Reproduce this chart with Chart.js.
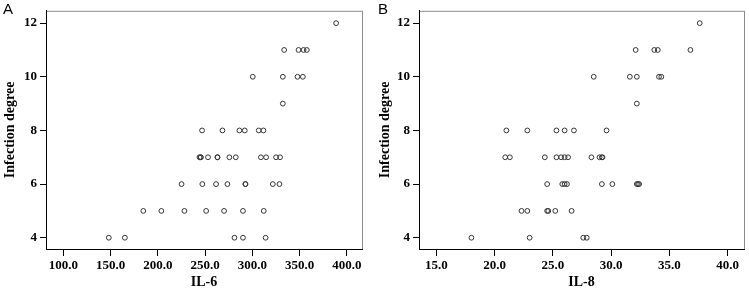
<!DOCTYPE html>
<html>
<head>
<meta charset="utf-8">
<script src="https://cdn.jsdelivr.net/npm/chart.js@4.4.1/dist/chart.umd.min.js"></script>
<style>
  html, body { margin: 0; padding: 0; background: #fff; }
  #wrap { position: relative; width: 749px; height: 293px; overflow: hidden; }
  canvas { position: absolute; top: 0; }
  .tag { position: absolute; top: 0; font: 15px "Liberation Sans", Arial, sans-serif; color: #000; }
</style>
</head>
<body>
<div id="wrap">
  <canvas id="chartA" width="375" height="293" style="left:0"></canvas>
  <canvas id="chartB" width="374" height="293" style="left:375px"></canvas>
  <div class="tag" style="left:3px">A</div>
  <div class="tag" style="left:378px">B</div>
</div>
<script>
// infection degree ticks shared by both panels
const degreeTicks = [4, 6, 8, 10, 12];

// panel A: IL-6 vs infection degree
const il6Ticks = [100, 150, 200, 250, 300, 350, 400];
const il6Values = [
  148, 165, 281, 290, 314,
  184.5, 203.6, 228, 251, 270, 290, 312,
  225, 247, 261.5, 273.5, 292.6, 292.6, 321.6, 328.6,
  244, 245.3, 245.3, 253, 263, 263, 275.6, 282.4, 309, 314.5, 325, 329.3,
  246.7, 268.3, 286.2, 291.9, 306.7, 311.6,
  332.2,
  300.4, 332.2, 347.7, 353.4,
  333.6, 348.8, 354.1, 357.6,
  388.6
];
const il6Degree = [
  4, 4, 4, 4, 4,
  5, 5, 5, 5, 5, 5, 5,
  6, 6, 6, 6, 6, 6, 6, 6,
  7, 7, 7, 7, 7, 7, 7, 7, 7, 7, 7, 7,
  8, 8, 8, 8, 8, 8,
  9,
  10, 10, 10, 10,
  11, 11, 11, 11,
  12
];

// panel B: IL-8 vs infection degree
const il8Ticks = [15, 20, 25, 30, 35, 40];
const il8Values = [
  18.0, 23.0, 27.6, 27.9,
  22.3, 22.8, 24.5, 24.6, 25.2, 26.6,
  24.5, 25.8, 26.0, 26.2, 29.2, 30.1, 32.2, 32.3, 32.4,
  20.9, 21.3, 24.3, 25.3, 25.7, 26.0, 26.3, 28.3, 29.0, 29.2, 29.25,
  21.0, 22.8, 25.3, 26.0, 26.8, 29.6,
  32.2,
  28.5, 31.6, 32.2, 34.1, 34.3,
  32.1, 33.7, 34.0, 36.8,
  37.6
];
const il8Degree = [
  4, 4, 4, 4,
  5, 5, 5, 5, 5, 5,
  6, 6, 6, 6, 6, 6, 6, 6, 6,
  7, 7, 7, 7, 7, 7, 7, 7, 7, 7, 7,
  8, 8, 8, 8, 8, 8,
  9,
  10, 10, 10, 10, 10,
  11, 11, 11, 11,
  12
];

const tickFont = { family: '"Liberation Serif", "Times New Roman", serif', size: 13, weight: 'bold' };
const titleFont = { family: '"Liberation Serif", "Times New Roman", serif', size: 14, weight: 'bold' };

// gray frame on top and right of the plot box
const framePlugin = {
  id: 'frame',
  beforeDraw(chart) {
    const { ctx, chartArea: a } = chart;
    ctx.save();
    ctx.strokeStyle = '#8a8a8a';
    ctx.lineWidth = 1;
    ctx.strokeRect(a.left + 0.5, a.top + 0.5, a.right - a.left, a.bottom - a.top);
    ctx.restore();
  }
};

function makeChart(id, xs, ys, xTicks, xMin, xMax, xTitle, yWidth, rightPad) {
  const points = xs.map((x, i) => ({ x: x, y: ys[i] }));
  return new Chart(document.getElementById(id), {
    type: 'scatter',
    data: {
      datasets: [{
        data: points,
        pointRadius: 2.4,
        pointBorderWidth: 1,
        pointBorderColor: '#333',
        pointBackgroundColor: 'rgba(0,0,0,0)'
      }]
    },
    options: {
      responsive: false,
      animation: false,
      layout: { padding: { left: 0, right: rightPad, top: 4, bottom: 0 } },
      plugins: { legend: { display: false }, tooltip: { enabled: false } },
      scales: {
        x: {
          type: 'linear',
          min: xMin,
          max: xMax,
          afterBuildTicks: s => { s.ticks = xTicks.map(v => ({ value: v })); },
          afterFit: s => { s.height = 44; },
          grid: { drawOnChartArea: false, drawTicks: true, tickLength: 7, color: '#000' },
          border: { display: true, color: '#000', width: 1 },
          ticks: { font: tickFont, color: '#000', padding: 2, maxRotation: 0,
                   callback: v => v.toFixed(1) },
          title: { display: true, text: xTitle, font: titleFont, color: '#000',
                   padding: { top: 0, bottom: 2 } }
        },
        y: {
          type: 'linear',
          min: 3.58,
          max: 12.46,
          afterBuildTicks: s => { s.ticks = degreeTicks.map(v => ({ value: v })); },
          afterFit: s => { s.width = yWidth; },
          grid: { drawOnChartArea: false, drawTicks: true, tickLength: 6, color: '#000' },
          border: { display: true, color: '#000', width: 1 },
          ticks: { font: tickFont, color: '#000', padding: 3 },
          title: { display: true, text: 'Infection degree', font: titleFont, color: '#000',
                   padding: { top: 2, bottom: 0 } }
        }
      }
    },
    plugins: [framePlugin]
  });
}

makeChart('chartA', il6Values, il6Degree, il6Ticks, 81.5, 416, 'IL-6', 46, 13);
makeChart('chartB', il8Values, il8Degree, il8Ticks, 13.5, 41.4, 'IL-8', 44, 4);
</script>
</body>
</html>
